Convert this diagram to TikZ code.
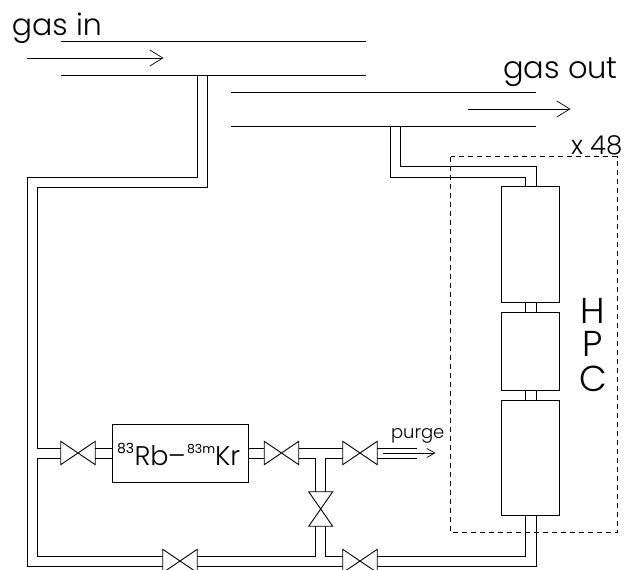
\documentclass[tikz,border=0pt]{standalone}
\usepackage{fontspec}
\setmainfont{Poppins}[UprightFont=* Light]
\newfontfamily\supfont{Poppins}
\usetikzlibrary{arrows.meta}
\tikzset{
  pipe/.style={line width=0.9pt,line cap=butt,line join=miter},
  valvenode/.style={rectangle,inner sep=0pt,outer sep=0pt,minimum width=34.5pt,minimum height=10pt},
  vvalvenode/.style={rectangle,inner sep=0pt,outer sep=0pt,minimum width=10pt,minimum height=34.5pt},
  vessel/.style={rectangle,draw,line width=0.9pt,inner sep=0pt,outer sep=0pt},
  bigarrow/.style={line width=0.7pt,-{Straight Barb[length=13pt,width=16pt,line width=0.7pt]}},
  smallarrow/.style={line width=0.7pt,-{Straight Barb[length=8pt,width=9pt,line width=0.7pt]}},
  lab/.style={inner sep=0pt,outer sep=0pt,anchor=base west},
  hpclab/.style={inner sep=0pt,outer sep=0pt,anchor=base,text height=26pt,text depth=0pt,font=\fontsize{36}{36}\selectfont},
}
\newcommand{\hvalve}[3]{%
  \node[valvenode] (#1) at (#2,#3) {};
  \draw[pipe] (#2-17.25,#3-11.7) -- (#2+17.25,#3+11.7) -- (#2+17.25,#3-11.7) -- (#2-17.25,#3+11.7) -- cycle;}
\newcommand{\vvalve}[3]{%
  \node[vvalvenode] (#1) at (#2,#3) {};
  \draw[pipe] (#2-12,#3-17.25) -- (#2+12,#3-17.25) -- (#2-12,#3+17.25) -- (#2+12,#3+17.25) -- cycle;}
\begin{document}
\begin{tikzpicture}[x=1pt,y=-1pt]
\useasboundingbox (0,0) rectangle (625,570);
\clip (0,0) rectangle (625,570);
% headers
\coordinate (inA) at (61,41); \coordinate (inB) at (366,41);
\coordinate (inC) at (61,75); \coordinate (inD) at (366,75);
\coordinate (outA) at (231,92); \coordinate (outB) at (536,92);
\coordinate (outC) at (231,126); \coordinate (outD) at (536,126);
\draw[pipe] (inA) -- (inB);
\draw[pipe] (inC) -- (inD);
\draw[pipe] (outA) -- (outB);
\draw[pipe] (outC) -- (outD);
% vessels
\node[vessel,minimum width=58pt,minimum height=115.3pt] (h1) at (530.7,244.3) {};
\node[vessel,minimum width=58pt,minimum height=77.7pt] (h2) at (530.7,351.2) {};
\node[vessel,minimum width=58pt,minimum height=115pt] (h3) at (530.7,458.2) {};
\node[vessel,minimum width=136pt,minimum height=58pt] (rb) at (180,453) {};
% valves
\hvalve{v1}{78}{453}
\hvalve{v2}{281.5}{453}
\hvalve{v3}{360}{453}
\hvalve{v4}{180}{561}
\hvalve{v5}{360}{561}
\vvalve{v6}{320.7}{509}
% inlet pipe
\draw[pipe] (197.5,75) |- (27.5,177) |- (v4.south west);
\draw[pipe] (207.5,75) |- (37.5,187) |- (v1.north west);
\draw[pipe] (v1.south west) -- (37.5,458) |- (v4.north west);
% rb connections
\draw[pipe] (v1.north east) -- (rb.west |- v1.north east);
\draw[pipe] (v1.south east) -- (rb.west |- v1.south east);
\draw[pipe] (rb.east |- v2.north west) -- (v2.north west);
\draw[pipe] (rb.east |- v2.south west) -- (v2.south west);
% T
\draw[pipe] (v2.north east) -- (v3.north west);
\draw[pipe] (v2.south east) -| (v6.north west);
\draw[pipe] (v3.south west) -| (v6.north east);
\draw[pipe] (v6.south west) |- (v4.north east);
\draw[pipe] (v6.south east) |- (v5.north west);
\draw[pipe] (v4.south east) -- (v5.south west);
% purge
\coordinate (pA) at (417,448); \coordinate (pB) at (417,458);
\draw[pipe] (v3.north east) -- (pA);
\draw[pipe] (v3.south east) -- (pB);
% to HPC
\draw[pipe] (v5.north east) -| (525.7,516);
\draw[pipe] (v5.south east) -| (536,516);
% HPC links
\draw[pipe] (525.7,302) -- (525.7,312.3);
\draw[pipe] (536,302) -- (536,312.3);
\draw[pipe] (525.7,390) -- (525.7,400.7);
\draw[pipe] (536,390) -- (536,400.7);
% outlet pipe
\draw[pipe] (390,126) |- (525.7,177) -- (525.7,186.7);
\draw[pipe] (400,126) |- (536,166.7) -- (536,186.7);
% dashed box
\draw[line width=0.8pt,dash pattern=on 5pt off 4pt] (450.7,156.7) rectangle (617,532.7);
% arrows
\coordinate (a1s) at (27,58); \coordinate (a1e) at (163.5,58);
\coordinate (a2s) at (468,109); \coordinate (a2e) at (570.5,109);
\coordinate (a3s) at (383,453); \coordinate (a3e) at (435.5,453);
\draw[bigarrow] (a1s) -- (a1e);
\draw[bigarrow] (a2s) -- (a2e);
\draw[smallarrow] (a3s) -- (a3e);
% text
\node[lab,font=\fontsize{30}{30}\selectfont] (tin) at (12,35) {gas in};
\node[lab,font=\fontsize{30.5}{30}\selectfont] (tout) at (503,78) {gas out};
\node[lab,font=\fontsize{26}{26}\selectfont] (t48) at (571,154) {x 48};
\node[lab,font=\fontsize{18}{18}\selectfont] (tpurge) at (391,438) {purge};
\node[hpclab] (tH) at (593,323) {H};
\node[hpclab] (tP) at (593,356) {P};
\node[hpclab] (tC) at (593,391) {C};
\node[lab,font=\supfont\fontsize{14}{14}\selectfont] (t83a) at (117,453) {83};
\node[lab,font=\fontsize{27}{27}\selectfont] (tRb) at (134.5,465) {Rb};
\node[lab,font=\fontsize{27}{27}\selectfont] (tdash) at (168,465) {–};
\node[lab,font=\supfont\fontsize{12.5}{14}\selectfont] (t83b) at (187,453) {83m};
\node[lab,font=\fontsize{27}{27}\selectfont] (tKr) at (215,465) {Kr};
\end{tikzpicture}
\end{document}
